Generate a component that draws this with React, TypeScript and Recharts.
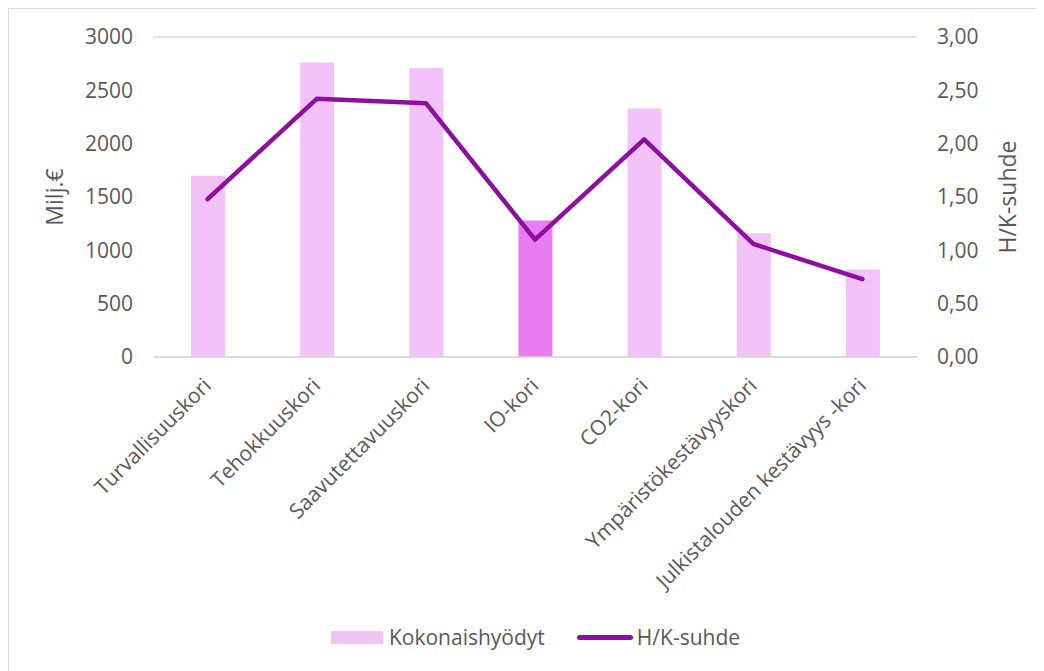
import React from "react"
import { ComposedChart, Bar, Line, XAxis, YAxis, CartesianGrid, Legend, Cell } from "recharts"

// Categories and values
const categories = [
  "Turvallisuuskori",
  "Tehokkuuskori",
  "Saavutettavuuskori",
  "IO-kori",
  "CO2-kori",
  "Ympäristökestävyyskori",
  "Julkistalouden kestävyys -kori",
]
const kokonaishyodyt = [1700, 2760, 2710, 1280, 2330, 1160, 820]
const hkSuhde = [1.48, 2.42, 2.38, 1.1, 2.04, 1.06, 0.73]
const leftTicks = [0, 500, 1000, 1500, 2000, 2500, 3000]
const rightTicks = [0, 0.5, 1, 1.5, 2, 2.5, 3]
const highlighted = "IO-kori"

const FONT = "'Open Sans', sans-serif"
const TEXT = "#595959"
const BAR = "#F2C2F9"
const BAR_HI = "#E87DF2"
const LINE = "#8E0E9F"

const data = categories.map((name, i) => ({
  name,
  hyodyt: kokonaishyodyt[i],
  hk: hkSuhde[i],
}))

function XTick(props: any) {
  const { x, y, payload } = props
  return (
    <g transform={`translate(${x + 5},${y + 22})`}>
      <text
        textAnchor="end"
        transform="rotate(-45)"
        fill={TEXT}
        fontSize={21}
        fontFamily={FONT}
      >
        {payload.value}
      </text>
    </g>
  )
}

function LegendContent() {
  return (
    <div
      style={{
        display: "flex",
        justifyContent: "center",
        alignItems: "center",
        height: 40,
        paddingLeft: 18,
        fontFamily: FONT,
        fontSize: 21,
        color: TEXT,
      }}
    >
      <span style={{ width: 52, height: 13, background: BAR, marginRight: 6 }} />
      <span style={{ marginRight: 32 }}>Kokonaishyödyt</span>
      <span style={{ width: 56, height: 5, borderRadius: 3, background: LINE, marginRight: 4 }} />
      <span>H/K-suhde</span>
    </div>
  )
}

export default function App() {
  return (
    <div
      style={{
        width: 1035,
        height: 662,
        borderLeft: "1px solid #d9d9d9",
        borderTop: "1px solid #d9d9d9",
        background: "#fff",
      }}
    >
      <ComposedChart
        width={1035}
        height={662}
        data={data}
        margin={{ top: 28, right: 10, bottom: 14, left: 10 }}
      >
        <CartesianGrid vertical={false} stroke="#d9d9d9" strokeWidth={1.3} />
        <XAxis
          dataKey="name"
          height={260}
          interval={0}
          tickLine={false}
          axisLine={{ stroke: "#d9d9d9", strokeWidth: 1.3 }}
          tick={<XTick />}
        />
        <YAxis
          yAxisId="left"
          width={134}
          domain={[0, 3000]}
          ticks={leftTicks}
          tickLine={false}
          axisLine={false}
          tickMargin={14}
          tick={{ fill: TEXT, fontSize: 21, fontFamily: FONT }}
          label={{
            value: "Milj.€",
            angle: -90,
            position: "insideLeft",
            offset: 36,
            style: { fill: TEXT, fontSize: 23, fontFamily: FONT, textAnchor: "middle" },
          }}
        />
        <YAxis
          yAxisId="right"
          orientation="right"
          width={117}
          domain={[0, 3]}
          ticks={rightTicks}
          tickLine={false}
          axisLine={false}
          tickMargin={14}
          tickFormatter={(v: number) => v.toFixed(2).replace(".", ",")}
          tick={{ fill: TEXT, fontSize: 21, fontFamily: FONT }}
          label={{
            value: "H/K-suhde",
            angle: -90,
            position: "insideRight",
            offset: 26,
            style: { fill: TEXT, fontSize: 23, fontFamily: FONT, textAnchor: "middle" },
          }}
        />
        <Legend verticalAlign="bottom" content={<LegendContent />} />
        <Bar yAxisId="left" dataKey="hyodyt" name="Kokonaishyödyt" barSize={34} isAnimationActive={false}>
          {data.map((d) => (
            <Cell key={d.name} fill={d.name === highlighted ? BAR_HI : BAR} />
          ))}
        </Bar>
        <Line
          yAxisId="right"
          dataKey="hk"
          name="H/K-suhde"
          stroke={LINE}
          strokeWidth={4.5}
          strokeLinecap="round"
          strokeLinejoin="round"
          dot={false}
          activeDot={false}
          type="linear"
          isAnimationActive={false}
        />
      </ComposedChart>
    </div>
  )
}
